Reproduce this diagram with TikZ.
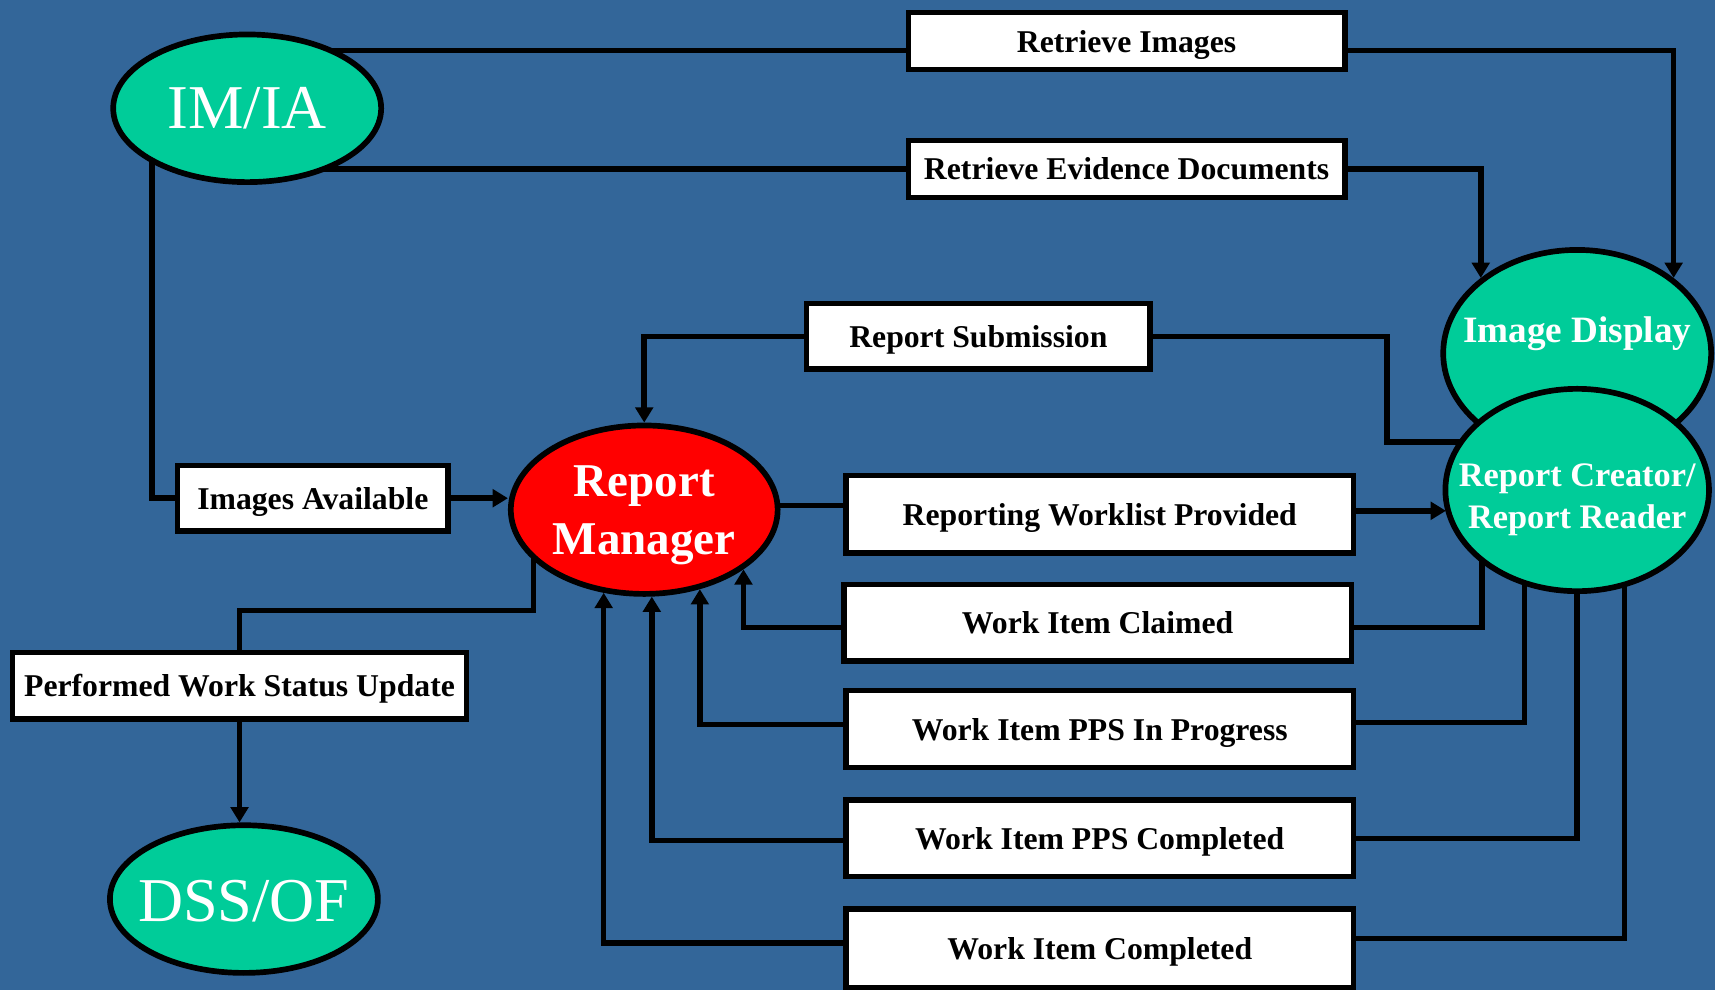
\documentclass[tikz,border=0pt]{standalone}
\usepackage{fontspec}
\setmainfont{Liberation Serif}
\usetikzlibrary{shapes.geometric,arrows.meta,calc,backgrounds}
\definecolor{bgblue}{RGB}{51,102,153}
\definecolor{tealg}{RGB}{0,204,153}
\begin{document}
\begin{tikzpicture}[x=0.5pt,y=-0.5pt,
  box/.style={draw=black,line width=2.5pt,fill=white,font=\fontsize{14.5}{17}\selectfont\bfseries,inner sep=0pt,text depth=0pt},
  oval/.style={ellipse,draw=black,line width=2.6pt,inner sep=0pt},
  conn/.style={draw=black,line width=2.5pt},
  arr/.style={conn,-{Triangle[length=7pt,width=8pt]}},
  wtxt/.style={text=white}
]
\useasboundingbox (0,0) rectangle (1568,905.1);

% ellipses
\node[oval,fill=tealg,minimum width=122.5pt,minimum height=67.5pt,
  label={[wtxt,font=\fontsize{28.5}{30}\selectfont]center:IM/IA}] (imia) at (226,99) {};
\node[oval,fill=tealg,minimum width=122.5pt,minimum height=67.5pt,
  label={[wtxt,yshift=-1pt,font=\fontsize{28.5}{30}\selectfont]center:DSS/OF}] (dss) at (223,822) {};
\node[oval,fill=red,minimum width=122pt,minimum height=77pt,
  label={[wtxt,align=center,yshift=-2.5pt,font=\fontsize{21.5}{26.5}\selectfont\bfseries]center:Report\\Manager}] (rm) at (589,466) {};
\node[oval,fill=tealg,minimum width=122.5pt,minimum height=94.5pt,
  label={[wtxt,yshift=9pt,font=\fontsize{17}{20}\selectfont\bfseries]center:Image Display}] (imgd) at (1442,323) {};
\node[oval,fill=tealg,minimum width=120.5pt,minimum height=92.5pt,
  label={[wtxt,align=center,yshift=-4.5pt,font=\fontsize{15.7}{19}\selectfont\bfseries]center:Report Creator/\\Report Reader}] (rc) at (1442,448) {};

% boxes
\node[box,minimum width=199.5pt,minimum height=26pt] (bRI) at (1030,37.5) {Retrieve Images};
\node[box,minimum width=199.5pt,minimum height=26pt] (bRED) at (1030,154.5) {Retrieve Evidence Documents};
\node[box,minimum width=157pt,minimum height=30pt] (bRS) at (894.5,307.5) {Report Submission};
\node[box,minimum width=123.5pt,minimum height=30pt] (bIA) at (286,455.5) {Images Available};
\node[box,minimum width=232pt,minimum height=35.5pt] (bRWP) at (1005.5,470) {Reporting Worklist Provided};
\node[box,minimum width=232pt,minimum height=35pt] (bWIC) at (1003.5,569.5) {Work Item Claimed};
\node[box,minimum width=232pt,minimum height=35pt] (bPIP) at (1005.5,666.5) {Work Item PPS In Progress};
\node[box,minimum width=232pt,minimum height=35pt] (bPC) at (1005.5,766.5) {Work Item PPS Completed};
\node[box,minimum width=232pt,minimum height=36pt] (bWC) at (1005.5,867) {Work Item Completed};
\node[box,minimum width=207.5pt,minimum height=30.5pt] (bPWS) at (219,627) {Performed Work Status Update};

\begin{scope}[on background layer]
  \fill[bgblue] (0,0) rectangle (1568,905.1);
  % IM/IA -> Retrieve Images -> Image Display
  \draw[conn] ($(imia.center)+(0,-53)$) -- ($(bRI.west)+(0,8.5)$);
  \draw[arr] ($(bRI.east)+(0,8.5)$) -| (imgd.38);
  % IM/IA -> Retrieve Evidence Documents -> Image Display
  \draw[conn] (imia.center |- bRED.west) -- (bRED.west);
  \draw[arr] (bRED.east) -| (imgd.142);
  % IM/IA -> Images Available -> Report Manager
  \draw[conn] ($(imia.center)+(-87,0)$) |- (bIA.west);
  \draw[arr] (bIA.east) -- (bIA.east -| rm.west);
  % Report Creator -> Report Submission -> Report Manager
  \draw[conn] ($(rc.center)+(0,-44)$) -- ++(-174,0) |- (bRS.east);
  \draw[arr] (bRS.west) -| (rm.north);
  % Report Manager -> Reporting Worklist Provided -> Report Creator
  \draw[conn] ($(rm.center |- bRWP.west)+(0,-8)$) -- ($(bRWP.west)+(0,-8)$);
  \draw[arr] ($(bRWP.east)+(0,-3)$) -- ($(bRWP.east -| rc.190)+(0,-3)$);
  % Report Creator -> work items -> Report Manager
  \draw[conn] ($(rc.center)+(-87,0)$) |- ($(bWIC.east)+(0,4)$);
  \draw[arr] ($(bWIC.west)+(0,4)$) -| (rm.-31);
  \draw[conn] ($(rc.center)+(-48,0)$) |- ($(bPIP.east)+(0,-6)$);
  \draw[arr] ($(bPIP.west)+(0,-4)$) -| (rm.-55);
  \draw[conn] (rc.center) |- (bPC.east);
  \draw[arr] ($(bPC.west)+(0,2)$) -| (rm.-85);
  \draw[conn] ($(rc.center)+(43,0)$) |- ($(bWC.east)+(0,-9)$);
  \draw[arr] ($(bWC.west)+(0,-5)$) -| (rm.-116);
  % Report Manager -> Performed Work Status Update -> DSS/OF
  \draw[conn] ($(rm.center)+(-101,0)$) |- ($(bPWS.north)+(0,-36)$) -- (bPWS.north);
  \draw[arr] (bPWS.south) -- (bPWS.south |- dss.north);
\end{scope}
\end{tikzpicture}
\end{document}
